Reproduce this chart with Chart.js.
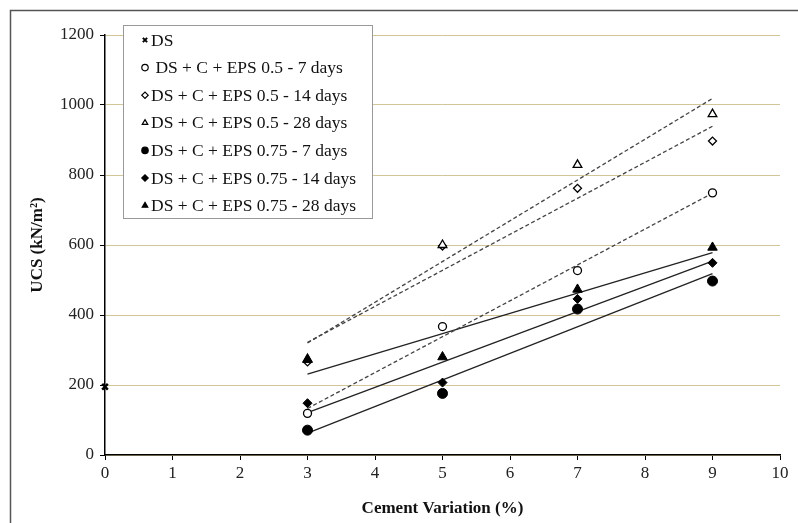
<!DOCTYPE html>
<html>
<head>
<meta charset="utf-8">
<script src="https://cdn.jsdelivr.net/npm/chart.js@4.4.0/dist/chart.umd.min.js"></script>
<style>
  html, body { margin: 0; padding: 0; background: #fff; }
  #wrap { width: 798px; height: 523px; position: relative; }
</style>
</head>
<body>
<div id="wrap"><canvas id="ucsChart" width="798" height="523"></canvas></div>
<script>
// cement % (x) and UCS values (kN/m2)
const cementX = [3, 5, 7, 9];
const dsPoint = [{ x: 0, y: 195 }];
const eps05_7 = [119, 367, 527, 749];
const eps05_14 = [266, 597, 762, 897];
const eps05_28 = [274, 600, 829, 974];
const eps075_7 = [71, 176, 417, 497];
const eps075_14 = [148, 207, 446, 549];
const eps075_28 = [272, 280, 473, 593];

const seriesLabels = [
  "DS",
  " DS + C + EPS 0.5 - 7 days",
  "DS + C + EPS 0.5 - 14 days",
  "DS + C + EPS 0.5 - 28 days",
  "DS + C + EPS 0.75 - 7 days",
  "DS + C + EPS 0.75 - 14 days",
  "DS + C + EPS 0.75 - 28 days"
];

const serif = "'Liberation Serif', 'Times New Roman', serif";

function toPoints(values) {
  return cementX.map((x, i) => ({ x: x, y: values[i] }));
}

// excel-style linear trendline over the measured points
function trendline(values) {
  const n = cementX.length;
  const mx = cementX.reduce((a, b) => a + b, 0) / n;
  const my = values.reduce((a, b) => a + b, 0) / n;
  let num = 0, den = 0;
  cementX.forEach((x, i) => { num += (x - mx) * (values[i] - my); den += (x - mx) * (x - mx); });
  const slope = num / den;
  const x0 = cementX[0], x1 = cementX[n - 1];
  return [{ x: x0, y: my + slope * (x0 - mx) }, { x: x1, y: my + slope * (x1 - mx) }];
}

function markerSet(label, data, style, filled, radius, order) {
  return {
    label: label,
    data: data,
    showLine: false,
    pointStyle: style,
    pointRadius: radius,
    pointHoverRadius: radius,
    pointBackgroundColor: filled ? "#000" : "#fff",
    pointBorderColor: "#000",
    pointBorderWidth: filled ? 1 : 1.3,
    clip: false,
    order: order
  };
}

function trendSet(values, dashed) {
  return {
    label: "trend",
    data: trendline(values),
    showLine: true,
    borderColor: dashed ? "#444" : "#222",
    borderWidth: 1.3,
    borderDash: dashed ? [4, 2.5] : [],
    pointRadius: 0,
    order: 20
  };
}

// lower order is drawn on top, so the filled markers cover the open ones
const markerSets = [
  markerSet(seriesLabels[0], dsPoint, "crossRot", true, 4, 10),
  markerSet(seriesLabels[1], toPoints(eps05_7), "circle", false, 4, 9),
  markerSet(seriesLabels[2], toPoints(eps05_14), "rectRot", false, 4, 8),
  markerSet(seriesLabels[3], toPoints(eps05_28), "triangle", false, 5, 7),
  markerSet(seriesLabels[4], toPoints(eps075_7), "circle", true, 5, 6),
  markerSet(seriesLabels[5], toPoints(eps075_14), "rectRot", true, 4.5, 5),
  markerSet(seriesLabels[6], toPoints(eps075_28), "triangle", true, 5.5, 4)
];
markerSets[0].pointBorderWidth = 2.5;

const trendSets = [
  trendSet(eps05_7, true),
  trendSet(eps05_14, true),
  trendSet(eps05_28, true),
  trendSet(eps075_7, false),
  trendSet(eps075_14, false),
  trendSet(eps075_28, false)
];

// outer frame of the figure
const framePlugin = {
  id: "frame",
  beforeDraw(chart) {
    const ctx = chart.ctx;
    ctx.save();
    ctx.strokeStyle = "#555";
    ctx.lineWidth = 1.5;
    ctx.beginPath();
    ctx.moveTo(10.5, 530);
    ctx.lineTo(10.5, 10.5);
    ctx.lineTo(800, 10.5);
    ctx.stroke();
    ctx.restore();
  }
};

// boxed legend sitting over the top left of the plot
const boxLegend = {
  id: "boxLegend",
  afterDraw(chart) {
    const ctx = chart.ctx;
    const area = chart.chartArea;
    const left = area.left + 18, top = area.top - 10;
    const w = 249, h = 193;
    ctx.save();
    ctx.fillStyle = "#fff";
    ctx.fillRect(left, top, w, h);
    ctx.strokeStyle = "#999";
    ctx.lineWidth = 1;
    ctx.strokeRect(left + 0.5, top + 0.5, w, h);
    ctx.font = "17.5px " + serif;
    ctx.textBaseline = "middle";
    markerSets.forEach((ds, i) => {
      const y = top + 15 + i * 27.6;
      ctx.fillStyle = ds.pointBackgroundColor;
      ctx.strokeStyle = "#000";
      ctx.lineWidth = i === 0 ? 2 : 1.2;
      Chart.helpers.drawPoint(ctx, { pointStyle: ds.pointStyle, radius: i === 0 ? 3 : 3.2, borderWidth: ctx.lineWidth, rotation: 0 }, left + 22, y);
      ctx.fillStyle = "#111";
      ctx.fillText(ds.label, left + 28, y + 1);
    });
    ctx.restore();
  }
};

const ctx = document.getElementById("ucsChart").getContext("2d");
new Chart(ctx, {
  type: "scatter",
  data: { datasets: [...markerSets, ...trendSets] },
  options: {
    responsive: false,
    animation: false,
    layout: { padding: { left: 0, top: 35, right: 18, bottom: 0 } },
    plugins: {
      legend: { display: false },
      tooltip: { enabled: false }
    },
    scales: {
      x: {
        type: "linear",
        min: 0,
        max: 10,
        ticks: { stepSize: 1, color: "#222", font: { family: serif, size: 17 }, padding: 3, maxRotation: 0, callback: v => String(v) },
        grid: { drawOnChartArea: false, tickColor: "#000", tickLength: 5 },
        border: { color: "#000", width: 1.5 },
        title: { display: true, text: "Cement Variation (%)", color: "#111", font: { family: serif, size: 17, weight: "bold" }, padding: { top: 4 } },
        afterFit(scale) { scale.height = 68; }
      },
      y: {
        min: 0,
        max: 1200,
        ticks: { stepSize: 200, color: "#222", font: { family: serif, size: 17 }, padding: 6, callback: v => String(v) },
        grid: { color: "#d2c699", lineWidth: 1, tickColor: "#000", tickLength: 5 },
        border: { color: "#000", width: 1.5 },
        title: { display: true, text: "UCS (kN/m²)", color: "#111", font: { family: serif, size: 17, weight: "bold" }, padding: { top: 27 } },
        afterFit(scale) { scale.width = 105; }
      }
    }
  },
  plugins: [framePlugin, boxLegend]
});
</script>
</body>
</html>
